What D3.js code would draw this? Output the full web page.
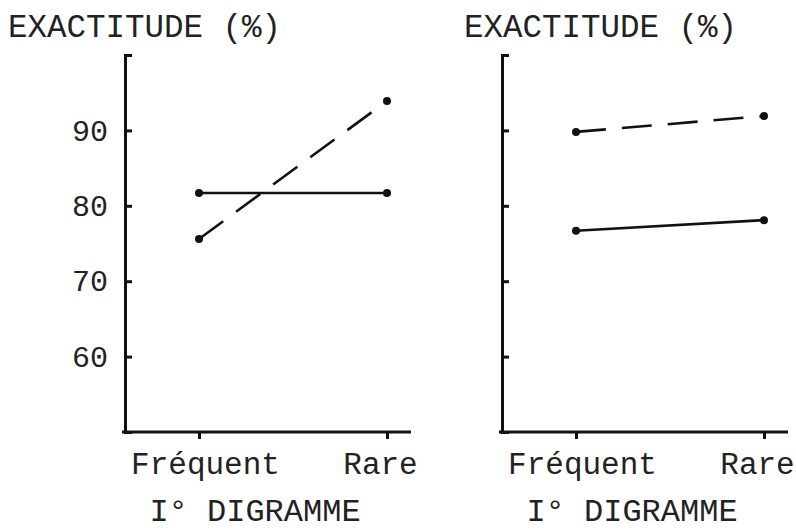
<!DOCTYPE html>
<meta charset="utf-8">
<style>
body { margin: 0; background: #fff; }
text { font-family: "Liberation Mono", "DejaVu Sans Mono", monospace; fill: #222; }
.axis path, .axis line { stroke: #111; stroke-width: 3px; }
.line { fill: none; stroke: #111; stroke-width: 2.6px; }
.line--dashed { stroke-dasharray: 30, 16; }
</style>
<svg width="796" height="530"></svg>
<script src="https://cdn.jsdelivr.net/npm/d3@7"></script>
<script>

var categories = ["Fréquent", "Rare"];
var yTicks = [60, 70, 80, 90];
var yTitle = "EXACTITUDE (%)";
var panelTitle = "I° DIGRAMME";

// left panel
var leftSolid = [81.7, 81.7];
var leftDashed = [75.6, 93.9];
// right panel
var rightSolid = [76.7, 78.1];
var rightDashed = [89.8, 91.9];

var panels = [
  {left: 125, labels: true, titleX: 8, series: [{values: leftSolid, dashed: false}, {values: leftDashed, dashed: true}]},
  {left: 502, labels: false, titleX: 464, series: [{values: rightSolid, dashed: false}, {values: rightDashed, dashed: true}]}
];

var svg = d3.select("svg");

var y = d3.scaleLinear().domain([50, 100]).range([432, 55]);
var x = d3.scalePoint().domain(categories).range([74, 262]);

var line = d3.line()
    .x(function(d, i) { return x(categories[i]); })
    .y(function(d) { return y(d); });

panels.forEach(function(p) {
  svg.append("text")
      .attr("x", p.titleX)
      .attr("y", 37)
      .style("font-size", "32.5px")
      .text(yTitle);

  var g = svg.append("g").attr("transform", "translate(" + p.left + ",0)");

  // x axis line
  g.append("line")
      .attr("x1", -3)
      .attr("x2", x.range()[1] + 24)
      .attr("y1", y(50))
      .attr("y2", y(50))
      .attr("stroke", "#111")
      .attr("stroke-width", 3);

  var xAxis = g.append("g")
      .attr("class", "axis axis--x")
      .attr("transform", "translate(0," + y(50) + ")")
      .call(d3.axisBottom(x).tickSize(7).tickPadding(13));
  xAxis.select(".domain").remove();
  xAxis.selectAll("text")
      .style("font-size", "31px")
      .attr("dx", function(d, i) { return i === 0 ? "6px" : "-7px"; });

  var yAxis = g.append("g")
      .attr("class", "axis axis--y")
      .call(d3.axisLeft(y).tickValues(yTicks).tickSizeInner(-7).tickSizeOuter(-7).tickPadding(17));
  yAxis.selectAll("text")
      .style("font-size", "30px")
      .style("display", p.labels ? null : "none");
  yAxis.select(".domain").attr("fill", "none");

  g.append("text")
      .attr("x", 130)
      .attr("y", 521)
      .attr("text-anchor", "middle")
      .style("font-size", "32px")
      .text(panelTitle);

  p.series.forEach(function(s) {
    g.append("path")
        .attr("class", "line" + (s.dashed ? " line--dashed" : ""))
        .attr("d", line(s.values));
    g.selectAll(null)
        .data(s.values)
        .enter().append("circle")
          .attr("cx", function(d, i) { return x(categories[i]); })
          .attr("cy", function(d) { return y(d); })
          .attr("r", 4)
          .attr("fill", "#111");
  });
});

</script>
